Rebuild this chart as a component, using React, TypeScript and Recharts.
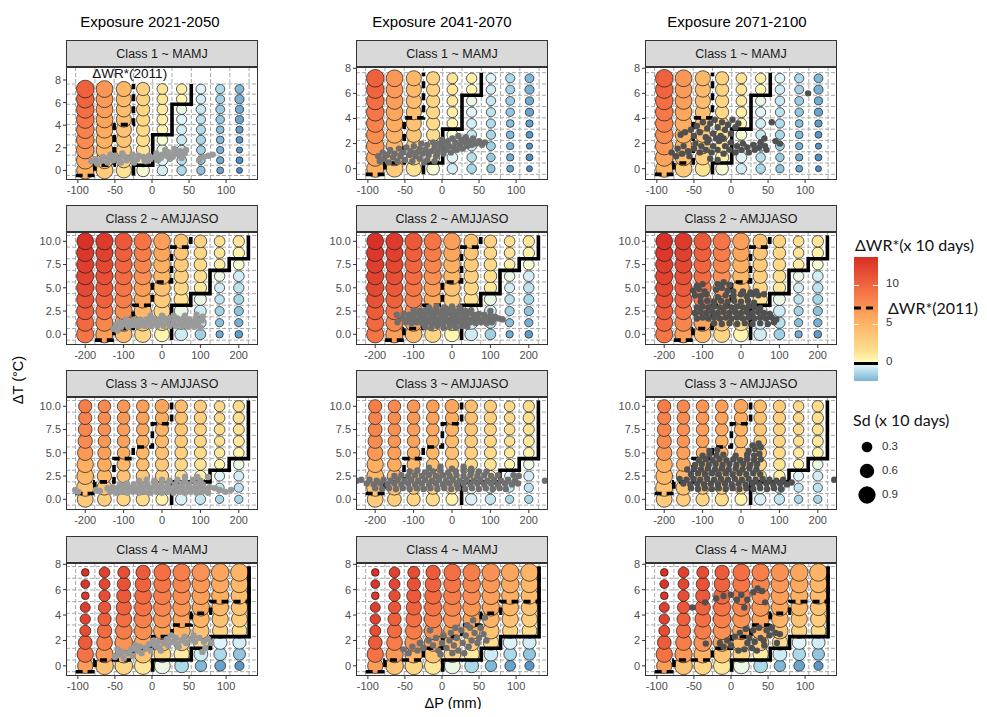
import React from 'react'
import { ScatterChart, Scatter, XAxis, YAxis, CartesianGrid } from 'recharts'

// ---- grid levels (ΔP columns, ΔT rows listed top -> bottom) ----
const dpShort = [-90, -64, -38, -12, 14, 40, 66, 92, 118]
const dpLong = [-200, -150, -100, -50, 0, 50, 100, 150, 200]
const dtClass1 = [7.2, 6.3, 5.4, 4.5, 3.6, 2.7, 1.8, 0.9, 0]
const dtClass23 = [10, 8.75, 7.5, 6.25, 5, 3.75, 2.5, 1.25, 0]
const dtClass4 = [7.36, 6.44, 5.52, 4.6, 3.68, 2.76, 1.84, 0.92, 0]

// tick labels
const ticksShortP = [-100, -50, 0, 50, 100]
const ticksLongP = [-200, -100, 0, 100, 200]
const ticksT8 = [0, 2, 4, 6, 8]
const ticksT10 = [0, 2.5, 5, 7.5, 10]

// cell boundaries (dashed grey grid)
const cutsShortP = [-103, -77, -51, -25, 1, 27, 53, 79, 105, 131]
const cutsLongP = [-225, -175, -125, -75, -25, 25, 75, 125, 175, 225]
const cutsT1 = [-0.45, 0.45, 1.35, 2.25, 3.15, 4.05, 4.95, 5.85, 6.75, 7.65]
const cutsT23 = [-0.625, 0.625, 1.875, 3.125, 4.375, 5.625, 6.875, 8.125, 9.375, 10.625]
const cutsT4 = [-0.46, 0.46, 1.38, 2.3, 3.22, 4.14, 5.06, 5.98, 6.9, 7.82]

// ΔWR* (x 10 days), rows top -> bottom
const wrClass1 = [
  [10.3, 7.0, 4.8, 2.8, 1.3, 0.8, -0.3, -1.2, -2.2],
  [10.0, 6.7, 4.6, 2.6, 1.2, 0.5, -0.5, -1.4, -2.4],
  [9.4, 6.4, 4.4, 2.4, 1.0, -0.2, -0.7, -1.6, -2.6],
  [8.8, 6.0, 4.2, 2.2, 0.8, -0.3, -0.9, -1.8, -2.8],
  [8.2, 5.6, 3.9, 2.0, 0.5, -0.5, -1.1, -2.0, -3.0],
  [7.6, 5.2, 3.6, 1.7, -0.1, -0.7, -1.3, -2.2, -3.2],
  [6.9, 4.8, 3.2, 1.3, -0.2, -0.8, -1.5, -2.4, -3.3],
  [6.0, 4.2, 2.7, 0.8, -0.3, -1.0, -1.7, -2.6, -3.4],
  [5.3, 3.2, 1.4, -0.1, -0.5, -1.2, -1.9, -2.8, -3.5],
]
const wrClass2 = [
  [13.4, 12.8, 10.8, 9.0, 6.4, 4.0, 2.6, 1.6, 1.2],
  [13.0, 12.4, 10.4, 8.6, 6.0, 3.6, 2.3, 1.3, 0.7],
  [12.6, 12.0, 10.0, 8.0, 5.4, 3.2, 2.0, 0.9, -0.1],
  [12.2, 11.4, 9.6, 7.4, 4.8, 2.8, 1.6, -0.2, -0.5],
  [11.8, 10.8, 9.0, 6.6, 4.0, 2.2, 1.1, -0.5, -0.9],
  [11.2, 10.2, 8.4, 5.8, 3.2, 1.5, -0.2, -0.9, -1.3],
  [10.6, 9.2, 7.4, 4.8, 2.4, -0.2, -0.6, -1.4, -1.9],
  [9.8, 8.0, 6.2, 3.8, 1.6, -0.4, -1.0, -2.0, -2.4],
  [9.0, 6.5, 4.6, 2.4, 0.5, -0.6, -1.5, -2.6, -3.0],
]
const wrClass3 = [
  [8.6, 7.8, 7.0, 6.4, 6.0, 4.4, 3.2, 2.2, 1.8],
  [8.2, 7.6, 6.8, 6.2, 5.6, 4.0, 2.9, 2.0, 1.6],
  [8.0, 7.3, 6.5, 5.8, 5.2, 3.6, 2.6, 1.8, 1.4],
  [7.6, 7.0, 6.2, 5.4, 4.6, 3.2, 2.3, 1.5, 1.1],
  [6.8, 6.4, 5.6, 4.8, 4.0, 2.8, 1.9, 1.1, 0.6],
  [5.4, 5.6, 4.8, 4.2, 3.4, 2.3, 1.4, 0.6, -0.2],
  [4.8, 4.8, 4.0, 3.6, 2.8, 1.6, 0.8, -0.3, -0.5],
  [4.0, 4.0, 3.4, 2.8, 2.0, -0.2, -0.5, -0.8, -0.9],
  [3.2, 3.0, 2.4, 1.8, 0.6, -0.4, -0.8, -1.2, -1.3],
]
const wrClass4 = [
  [13.4, 12.4, 11.6, 10.6, 9.4, 8.4, 7.2, 6.0, 5.0],
  [13.2, 12.0, 11.2, 10.2, 9.0, 8.0, 6.8, 5.8, 4.8],
  [13.0, 11.6, 10.8, 9.8, 8.6, 7.6, 6.4, 5.4, 4.4],
  [12.6, 11.0, 10.2, 9.2, 8.0, 7.0, 5.8, 4.8, 3.8],
  [12.2, 10.4, 9.4, 8.4, 7.2, 6.2, 5.0, 4.0, 3.0],
  [11.6, 9.6, 8.6, 7.4, 6.2, 5.0, 3.8, 2.8, 1.8],
  [10.6, 8.6, 7.2, 6.0, 4.4, 3.2, 1.8, -0.3, -0.5],
  [9.2, 7.0, 5.2, 3.8, 2.4, 1.0, -0.6, -1.2, -1.8],
  [6.6, 4.0, 2.4, 1.2, -0.2, -1.2, -2.2, -2.8, -3.2],
]

// Sd (x 10 days), rows top -> bottom
const sdClass1 = [
  [0.95, 0.85, 0.68, 0.5, 0.3, 0.28, 0.24, 0.2, 0.18],
  [0.95, 0.85, 0.68, 0.5, 0.3, 0.28, 0.22, 0.18, 0.2],
  [0.95, 0.85, 0.68, 0.5, 0.3, 0.26, 0.22, 0.18, 0.14],
  [0.95, 0.85, 0.68, 0.5, 0.3, 0.26, 0.2, 0.16, 0.14],
  [0.95, 0.85, 0.68, 0.5, 0.3, 0.24, 0.2, 0.12, 0.1],
  [0.95, 0.85, 0.68, 0.5, 0.3, 0.24, 0.2, 0.12, 0.08],
  [0.95, 0.85, 0.68, 0.5, 0.3, 0.24, 0.18, 0.1, 0.05],
  [0.95, 0.85, 0.68, 0.5, 0.3, 0.22, 0.16, 0.1, 0.08],
  [0.9, 0.85, 0.68, 0.45, 0.28, 0.22, 0.14, 0.08, 0.04],
]
const sdClass2 = [
  [0.85, 0.9, 0.9, 0.9, 0.85, 0.6, 0.45, 0.3, 0.35],
  [0.9, 0.9, 0.9, 0.9, 0.85, 0.6, 0.45, 0.3, 0.35],
  [0.9, 0.9, 0.9, 0.9, 0.85, 0.6, 0.45, 0.3, 0.3],
  [0.9, 0.9, 0.9, 0.9, 0.85, 0.6, 0.45, 0.28, 0.3],
  [0.9, 0.9, 0.9, 0.9, 0.85, 0.6, 0.42, 0.25, 0.28],
  [0.9, 0.9, 0.9, 0.9, 0.85, 0.6, 0.4, 0.22, 0.25],
  [0.9, 0.9, 0.9, 0.9, 0.8, 0.55, 0.38, 0.2, 0.2],
  [0.9, 0.9, 0.9, 0.85, 0.75, 0.5, 0.35, 0.15, 0.15],
  [0.9, 0.9, 0.85, 0.8, 0.65, 0.45, 0.3, 0.1, 0.12],
]
const sdClass3 = [
  [0.5, 0.45, 0.45, 0.45, 0.55, 0.45, 0.42, 0.3, 0.35],
  [0.5, 0.45, 0.45, 0.45, 0.5, 0.45, 0.42, 0.3, 0.35],
  [0.55, 0.45, 0.45, 0.45, 0.5, 0.45, 0.4, 0.3, 0.32],
  [0.6, 0.45, 0.45, 0.45, 0.5, 0.45, 0.4, 0.28, 0.32],
  [0.7, 0.5, 0.45, 0.45, 0.5, 0.45, 0.4, 0.28, 0.3],
  [0.8, 0.55, 0.5, 0.45, 0.5, 0.45, 0.38, 0.26, 0.28],
  [0.85, 0.6, 0.5, 0.5, 0.5, 0.42, 0.35, 0.25, 0.25],
  [0.9, 0.65, 0.5, 0.5, 0.45, 0.4, 0.32, 0.2, 0.2],
  [0.75, 0.55, 0.5, 0.5, 0.4, 0.35, 0.28, 0.15, 0.15],
]
const sdClass4 = [
  [0.12, 0.3, 0.4, 0.6, 0.85, 0.9, 0.95, 0.95, 0.95],
  [0.18, 0.32, 0.5, 0.75, 0.9, 0.95, 0.95, 0.95, 0.9],
  [0.12, 0.35, 0.6, 0.85, 0.95, 0.95, 0.95, 0.9, 0.85],
  [0.25, 0.42, 0.68, 0.9, 0.95, 0.95, 0.9, 0.85, 0.8],
  [0.28, 0.5, 0.75, 0.95, 0.95, 0.9, 0.85, 0.8, 0.75],
  [0.32, 0.6, 0.85, 0.95, 0.95, 0.9, 0.8, 0.7, 0.65],
  [0.55, 0.75, 0.95, 0.95, 0.9, 0.8, 0.7, 0.55, 0.5],
  [0.8, 0.9, 0.95, 0.95, 0.85, 0.7, 0.55, 0.45, 0.4],
  [0.7, 0.95, 0.95, 0.9, 0.75, 0.55, 0.35, 0.3, 0.2],
]

// contour steps: ΔWR* = 0 (solid) and ΔWR* = ΔWR*(2011) (dashed)
const zeroClass1 = [[53, 7.65], [53, 5.85], [27, 5.85], [27, 3.15], [1, 3.15], [1, 0.45], [-25, 0.45], [-25, -0.45]]
const refClass1 = [[-103, -0.45], [-77, -0.45], [-77, 0.45], [-51, 0.45], [-51, 4.05], [-25, 4.05], [-25, 7.65]]
const zeroClass2 = [[225, 10.625], [225, 8.125], [175, 8.125], [175, 6.875], [125, 6.875], [125, 4.375], [75, 4.375], [75, 3.125], [25, 3.125], [25, -0.625]]
const refClass2 = [[-175, -0.625], [-125, -0.625], [-125, 0.625], [-75, 0.625], [-75, 3.125], [-25, 3.125], [-25, 5.625], [25, 5.625], [25, 9.375], [75, 9.375], [75, 10.625]]
const zeroClass3 = [[225, 10.625], [225, 4.375], [175, 4.375], [175, 3.125], [125, 3.125], [125, 1.875], [25, 1.875], [25, -0.625]]
const refClass3 = [[-225, 0.625], [-175, 0.625], [-175, 1.875], [-125, 1.875], [-125, 4.375], [-75, 4.375], [-75, 5.625], [-25, 5.625], [-25, 8.125], [25, 8.125], [25, 10.625]]
const zeroClass4 = [[131, 7.82], [131, 2.3], [79, 2.3], [79, 1.38], [53, 1.38], [53, 0.46], [1, 0.46], [1, -0.46]]
const refClass4 = [[-103, -0.46], [-77, -0.46], [-77, 0.46], [-25, 0.46], [-25, 1.38], [1, 1.38], [1, 2.3], [27, 2.3], [27, 3.22], [53, 3.22], [53, 4.14], [79, 4.14], [79, 5.06], [131, 5.06], [131, 7.82]]

// exposure points [ΔP, ΔT] per class and period
const expC1P1 = [[-82, 0.8], [-76, 1.0], [-74, 0.6], [-68, 0.9], [-66, 1.2], [-60, 0.7], [-58, 1.1], [-56, 1.4], [-52, 0.9], [-50, 1.3], [-44, 1.0], [-42, 0.7], [-40, 1.5], [-36, 1.2], [-34, 0.9], [-28, 1.1], [-26, 1.4], [-24, 0.7], [-20, 1.0], [-18, 1.3], [-12, 1.2], [-10, 0.9], [-8, 0.8], [-4, 1.3], [-2, 1.0], [4, 1.2], [6, 1.5], [8, 0.9], [12, 1.1], [14, 1.4], [18, 1.8], [20, 1.3], [22, 1.6], [24, 1.0], [28, 1.2], [30, 1.5], [30, 1.9], [36, 1.4], [38, 1.7], [40, 1.1], [44, 1.5], [46, 1.8], [64, 0.9], [70, 1.2], [76, 1.3], [82, 1.4]]
const expC1P2 = [[-86, 1.0], [-84, 0.6], [-80, 1.3], [-78, 0.8], [-74, 1.1], [-72, 0.5], [-70, 1.5], [-66, 0.9], [-64, 1.2], [-60, 0.6], [-58, 1.6], [-56, 1.0], [-52, 1.3], [-50, 0.7], [-48, 1.7], [-44, 1.1], [-42, 1.4], [-40, 0.6], [-38, 1.8], [-36, 1.0], [-34, 1.3], [-30, 0.8], [-30, 1.6], [-28, 2.0], [-26, 1.2], [-24, 0.5], [-22, 1.5], [-20, 0.7], [-20, 1.9], [-18, 1.1], [-14, 1.4], [-12, 2.1], [-10, 1.7], [-10, 0.6], [-8, 1.0], [-6, 1.3], [-4, 2.0], [-2, 1.6], [0, 2.3], [2, 1.2], [4, 1.9], [6, 1.5], [8, 2.2], [10, 1.8], [12, 1.3], [14, 2.4], [16, 1.7], [18, 2.1], [20, 1.5], [22, 2.6], [24, 1.9], [26, 2.3], [28, 1.6], [30, 2.1], [32, 2.5], [34, 1.8], [36, 2.2], [40, 1.9], [42, 2.4], [46, 2.0], [50, 2.2], [54, 1.9], [58, 2.1]]
const expC1P3 = [[-80, 1.3], [-74, 1.0], [-72, 1.6], [-66, 1.2], [-64, 1.8], [-58, 1.4], [-56, 1.0], [-50, 1.6], [-48, 2.0], [-42, 1.3], [-40, 1.8], [-34, 1.5], [-32, 2.1], [-26, 1.3], [-24, 1.8], [-18, 1.5], [-16, 2.2], [-10, 1.2], [-8, 1.8], [-2, 1.5], [0, 2.1], [6, 1.3], [8, 1.8], [14, 1.5], [16, 2.0], [22, 1.7], [24, 1.3], [30, 1.9], [32, 1.5], [38, 1.7], [40, 2.1], [46, 1.8], [48, 1.5], [-62, 2.9], [-54, 3.1], [-50, 2.6], [-46, 3.4], [-42, 2.9], [-38, 3.7], [-34, 2.5], [-32, 3.2], [-28, 3.6], [-24, 2.8], [-22, 3.9], [-18, 3.3], [-14, 2.6], [-12, 3.7], [-8, 3.1], [-4, 3.5], [0, 2.8], [2, 3.9], [6, 3.3], [10, 3.6], [-30, 2.3], [-20, 2.4], [-10, 2.4], [-28, 0.8], [-18, 0.7], [55, 3.7], [66, 2.0], [104, 6.0], [-68, 2.7], [60, 2.2], [45, 2.4]]
const expC2P1 = [[-126, 0.6], [-120, 1.0], [-116, 0.4], [-110, 1.3], [-106, 0.8], [-98, 1.1], [-94, 1.6], [-88, 0.8], [-84, 1.3], [-76, 1.0], [-72, 1.6], [-66, 1.2], [-60, 0.9], [-56, 1.6], [-50, 1.2], [-44, 0.9], [-40, 1.6], [-34, 1.2], [-28, 0.9], [-24, 1.7], [-18, 1.2], [-12, 0.9], [-8, 1.6], [-2, 1.2], [4, 0.9], [8, 1.7], [14, 1.3], [20, 0.9], [24, 1.7], [30, 1.2], [36, 0.9], [40, 1.7], [46, 1.3], [52, 0.9], [56, 1.7], [62, 1.2], [68, 0.8], [72, 1.6], [78, 1.2], [84, 0.8], [88, 1.6], [94, 1.2], [100, 0.7], [104, 1.5], [106, 1.9], [-30, 2.0], [0, 2.0], [30, 2.0], [60, 2.0], [90, 2.1]]
const expC2P2 = [[-70, 0.8], [-54, 0.7], [-38, 0.9], [-22, 0.7], [-6, 0.8], [10, 0.7], [26, 0.9], [40, 0.8], [-120, 1.3], [-106, 1.2], [-92, 1.3], [-78, 1.2], [-64, 1.3], [-50, 1.2], [-36, 1.3], [-22, 1.2], [-8, 1.3], [6, 1.2], [20, 1.3], [34, 1.2], [48, 1.3], [62, 1.2], [76, 1.3], [90, 1.2], [104, 1.3], [-130, 1.7], [-116, 1.6], [-102, 1.7], [-88, 1.6], [-74, 1.7], [-60, 1.6], [-46, 1.7], [-32, 1.6], [-18, 1.7], [-4, 1.6], [10, 1.7], [24, 1.6], [38, 1.7], [52, 1.6], [66, 1.7], [80, 1.6], [94, 1.7], [108, 1.6], [122, 1.7], [132, 1.6], [-126, 2.2], [-112, 2.1], [-98, 2.2], [-84, 2.1], [-70, 2.2], [-56, 2.1], [-42, 2.2], [-28, 2.1], [-14, 2.2], [0, 2.1], [14, 2.2], [28, 2.1], [42, 2.2], [56, 2.1], [70, 2.2], [84, 2.1], [100, 2.0], [112, 1.9], [-100, 2.6], [-85, 2.5], [-70, 2.6], [-55, 2.5], [-40, 2.6], [-25, 2.5], [-10, 2.6], [5, 2.5], [20, 2.6], [35, 2.5], [50, 2.6], [-60, 2.9], [-40, 3.0], [-20, 2.9], [0, 3.0], [20, 2.9], [-144, 2.1], [-142, 1.3], [100, 2.5]]
const expC2P3 = [[-70, 1.2], [-50, 1.1], [-30, 1.2], [-10, 1.1], [10, 1.2], [30, 1.1], [50, 1.2], [70, 1.1], [86, 1.3], [-115, 1.7], [-100, 1.8], [-85, 1.7], [-70, 1.8], [-55, 1.7], [-40, 1.8], [-25, 1.7], [-10, 1.8], [5, 1.7], [20, 1.8], [35, 1.7], [50, 1.8], [65, 1.7], [80, 1.8], [92, 1.6], [-120, 2.3], [-105, 2.4], [-90, 2.3], [-75, 2.4], [-60, 2.3], [-45, 2.4], [-30, 2.3], [-15, 2.4], [0, 2.3], [15, 2.4], [30, 2.3], [45, 2.4], [60, 2.3], [75, 2.2], [-115, 2.9], [-100, 3.0], [-85, 2.9], [-70, 3.0], [-55, 2.9], [-40, 3.0], [-25, 2.9], [-10, 3.0], [5, 2.9], [20, 3.0], [35, 2.9], [50, 2.8], [-105, 3.5], [-88, 3.6], [-70, 3.5], [-52, 3.6], [-35, 3.5], [-18, 3.6], [0, 3.5], [18, 3.6], [34, 3.4], [-120, 4.2], [-105, 4.1], [-90, 4.3], [-60, 4.0], [-40, 4.2], [-20, 4.1], [0, 4.3], [15, 4.1], [30, 4.3], [45, 4.2], [60, 4.3], [-125, 4.7], [-110, 4.9], [-95, 4.6], [-65, 4.8], [-50, 5.0], [-35, 4.7], [-20, 4.6], [5, 4.6], [25, 4.5], [40, 4.6], [-115, 5.2], [-100, 5.4], [-60, 5.4], [-45, 5.6], [-30, 5.3]]
const expC3P1 = [[-226, 1.0], [-218, 0.8], [-172, 1.0], [-162, 0.9], [-135, 0.8], [-120, 0.7], [-105, 0.8], [-90, 0.7], [-75, 0.8], [-60, 0.7], [-45, 0.8], [-30, 0.7], [-15, 0.8], [0, 0.7], [15, 0.8], [30, 0.7], [45, 0.8], [60, 0.7], [75, 0.8], [90, 0.7], [105, 0.8], [120, 0.7], [-142, 1.2], [-128, 1.3], [-114, 1.2], [-100, 1.3], [-86, 1.2], [-72, 1.3], [-58, 1.2], [-44, 1.3], [-30, 1.2], [-16, 1.3], [-2, 1.2], [12, 1.3], [26, 1.2], [40, 1.3], [54, 1.2], [68, 1.3], [82, 1.2], [96, 1.3], [110, 1.2], [124, 1.3], [138, 1.2], [-110, 1.6], [-92, 1.7], [-74, 1.6], [-56, 1.7], [-38, 1.6], [-20, 1.7], [-2, 1.6], [16, 1.7], [34, 1.6], [52, 1.7], [70, 1.6], [88, 1.7], [106, 1.6], [-60, 2.0], [-40, 2.1], [-20, 2.0], [0, 2.1], [20, 2.0], [40, 2.1], [60, 2.0], [80, 2.1], [100, 2.0], [150, 1.0], [165, 0.8], [180, 1.0], [120, 2.4], [92, 2.4], [60, 2.4]]
const expC3P2 = [[-248, 2.0], [-236, 2.1], [242, 2.0], [-200, 1.2], [-182, 1.1], [-164, 1.2], [-146, 1.1], [-128, 1.2], [-110, 1.1], [-92, 1.2], [-74, 1.1], [-56, 1.2], [-38, 1.1], [-20, 1.2], [-2, 1.1], [16, 1.2], [34, 1.1], [52, 1.2], [70, 1.1], [88, 1.2], [106, 1.1], [124, 1.2], [140, 1.1], [-222, 1.7], [-204, 1.6], [-186, 1.7], [-168, 1.6], [-150, 1.7], [-132, 1.6], [-114, 1.7], [-96, 1.6], [-78, 1.7], [-60, 1.6], [-42, 1.7], [-24, 1.6], [-6, 1.7], [12, 1.6], [30, 1.7], [48, 1.6], [66, 1.7], [84, 1.6], [102, 1.7], [120, 1.6], [138, 1.7], [156, 1.6], [172, 1.7], [-215, 2.1], [-196, 2.0], [-178, 2.1], [-160, 2.0], [-142, 2.1], [-124, 2.0], [-106, 2.1], [-88, 2.0], [-70, 2.1], [-52, 2.0], [-34, 2.1], [-16, 2.0], [2, 2.1], [20, 2.0], [38, 2.1], [56, 2.0], [74, 2.1], [92, 2.0], [110, 2.1], [128, 2.0], [146, 2.1], [164, 2.0], [-150, 2.5], [-132, 2.6], [-114, 2.5], [-96, 2.6], [-78, 2.5], [-60, 2.6], [-42, 2.5], [-24, 2.6], [-6, 2.5], [12, 2.6], [30, 2.5], [48, 2.6], [66, 2.5], [84, 2.6], [102, 2.5], [120, 2.6], [160, 2.6], [174, 2.5], [-110, 3.0], [-90, 3.1], [-70, 2.9], [-50, 3.0], [-30, 3.1], [-10, 2.9], [10, 3.0], [30, 3.1], [50, 2.9], [70, 3.0], [90, 3.0], [-60, 3.4], [-30, 3.5], [0, 3.3], [30, 3.5], [50, 3.3]]
const expC3P3 = [[-130, 1.2], [-112, 1.1], [-94, 1.2], [-76, 1.1], [-58, 1.2], [-40, 1.1], [-22, 1.2], [-4, 1.1], [14, 1.2], [32, 1.1], [50, 1.2], [68, 1.1], [86, 1.2], [104, 1.1], [-150, 1.7], [-132, 1.6], [-114, 1.7], [-96, 1.6], [-78, 1.7], [-60, 1.6], [-42, 1.7], [-24, 1.6], [-6, 1.7], [12, 1.6], [30, 1.7], [48, 1.6], [66, 1.7], [84, 1.6], [102, 1.7], [120, 1.6], [132, 1.8], [-160, 2.2], [-142, 2.1], [-124, 2.2], [-106, 2.1], [-88, 2.2], [-70, 2.1], [-52, 2.2], [-34, 2.1], [-16, 2.2], [2, 2.1], [20, 2.2], [38, 2.1], [56, 2.2], [74, 2.1], [92, 2.0], [110, 2.1], [-130, 2.7], [-112, 2.8], [-94, 2.7], [-76, 2.8], [-58, 2.7], [-40, 2.8], [-22, 2.7], [-4, 2.8], [14, 2.7], [32, 2.8], [50, 2.7], [-140, 3.2], [-122, 3.3], [-104, 3.2], [-86, 3.3], [-68, 3.2], [-50, 3.3], [-32, 3.2], [-14, 3.3], [4, 3.2], [22, 3.3], [40, 3.2], [-120, 3.7], [-102, 3.8], [-84, 3.7], [-66, 3.8], [-48, 3.7], [-30, 3.8], [-12, 3.7], [6, 3.8], [24, 3.7], [42, 3.8], [-110, 4.2], [-92, 4.3], [-74, 4.2], [-56, 4.3], [-38, 4.2], [-20, 4.3], [-2, 4.2], [16, 4.3], [34, 4.2], [52, 4.3], [-100, 4.7], [-82, 4.8], [-64, 4.7], [-46, 4.8], [-14, 4.7], [16, 4.8], [34, 4.7], [48, 4.9], [-82, 5.2], [-62, 5.3], [20, 5.2], [36, 5.4], [52, 5.6], [30, 5.8], [46, 6.0], [243, 2.1]]
const expC4P1 = [[-50, 0.7], [-44, 0.9], [-38, 0.6], [-40, 1.1], [-32, 1.0], [-26, 0.8], [-28, 1.3], [-20, 1.2], [-14, 1.0], [-16, 1.5], [-8, 1.4], [-2, 1.2], [-4, 1.7], [4, 1.6], [10, 1.4], [8, 1.9], [16, 1.8], [22, 1.6], [20, 2.1], [28, 1.9], [34, 1.7], [32, 2.2], [40, 2.0], [46, 1.8], [44, 2.3], [52, 2.1], [58, 1.9], [56, 2.4], [64, 2.2], [70, 1.9], [76, 2.1], [68, 1.1], [72, 1.4], [80, 1.8], [-46, 1.3], [-22, 1.6], [2, 2.0], [26, 2.4], [12, 1.2], [36, 1.5]]
const expC4P2 = [[-52, 1.3], [-45, 1.0], [-40, 1.5], [-33, 1.2], [-30, 1.8], [-25, 1.4], [-18, 2.0], [-16, 2.8], [-12, 1.6], [-8, 2.2], [-5, 1.2], [0, 1.8], [2, 2.4], [6, 1.4], [10, 2.0], [12, 2.6], [16, 1.6], [20, 2.2], [22, 1.2], [26, 2.8], [28, 1.8], [32, 2.4], [34, 3.2], [36, 1.5], [40, 2.0], [42, 3.6], [44, 2.6], [48, 1.8], [50, 2.2], [52, 3.0], [56, 2.5], [58, 3.8], [60, 2.0], [38, 3.0], [18, 3.0], [30, 1.0], [14, 1.0], [-2, 0.9]]
const expC4P3 = [[-52, 4.6], [-35, 5.0], [-20, 5.3], [-10, 5.5], [0, 5.6], [8, 5.2], [14, 5.6], [22, 5.2], [30, 5.8], [36, 6.1], [42, 5.9], [46, 5.0], [18, 4.6], [-34, 1.75], [-15, 1.8], [-10, 1.5], [-5, 2.0], [0, 1.6], [5, 2.3], [10, 1.2], [12, 2.6], [18, 1.3], [20, 2.9], [25, 2.2], [28, 1.4], [30, 2.8], [35, 1.2], [38, 3.0], [40, 2.2], [45, 1.6], [48, 2.8], [52, 2.4], [55, 3.0], [60, 2.6], [62, 1.8], [66, 2.5], [22, 1.8], [32, 1.9], [44, 2.0]]

const periods = ['Exposure 2021-2050', 'Exposure 2041-2070', 'Exposure 2071-2100']
const legendTicks = [10, 5, 0]
const sdLegend = [0.3, 0.6, 0.9]

// ---- styling ----
const FONT = '"Liberation Sans", Arial, sans-serif'
const COL_LEFT = [66, 356, 645]
const TITLE_CENTER = [150, 442, 737]
const ROW_TOP = [67, 232, 397, 563]
const PANEL_W = 192
const PANEL_H = 113
const STRIP_H = 27
const Y_W = 40
const X_H = 22
const TOP_PAD = 8
const POINT_FILL = ['#9a9a9a', '#6f6f6f', '#505050']

const WR_STOPS: [number, string][] = [
  [-3.6, '#4a88c0'],
  [-2.5, '#74add1'],
  [-1.2, '#abd9e9'],
  [-0.3, '#e0f3f8'],
  [0, '#ffffbf'],
  [1.5, '#fee090'],
  [5.5, '#fdae61'],
  [9.5, '#f46d43'],
  [13.5, '#d73027'],
]

function hexToRgb(h: string) {
  return [1, 3, 5].map((i) => parseInt(h.slice(i, i + 2), 16))
}

function wrColor(v: number) {
  const s = WR_STOPS
  if (v <= s[0][0]) return s[0][1]
  for (let i = 1; i < s.length; i++) {
    if (v <= s[i][0]) {
      const t = (v - s[i - 1][0]) / (s[i][0] - s[i - 1][0])
      const a = hexToRgb(s[i - 1][1])
      const b = hexToRgb(s[i][1])
      const c = a.map((x, k) => Math.round(x + (b[k] - x) * t))
      return `rgb(${c[0]},${c[1]},${c[2]})`
    }
  }
  return s[s.length - 1][1]
}

const sdRadius = (sd: number) => Math.sqrt(6 + 76 * sd)

const CLASSES = [
  { title: 'Class 1 ~ MAMJ', dp: dpShort, dt: dtClass1, wr: wrClass1, sd: sdClass1, zero: zeroClass1, ref: refClass1, xDomain: [-116, 143], yDomain: [-0.9, 8.1], xTicks: ticksShortP, yTicks: ticksT8, xCuts: cutsShortP, yCuts: cutsT1, points: [expC1P1, expC1P2, expC1P3] },
  { title: 'Class 2 ~ AMJJASO', dp: dpLong, dt: dtClass23, wr: wrClass2, sd: sdClass2, zero: zeroClass2, ref: refClass2, xDomain: [-250, 250], yDomain: [-1.15, 11.0], xTicks: ticksLongP, yTicks: ticksT10, xCuts: cutsLongP, yCuts: cutsT23, points: [expC2P1, expC2P2, expC2P3] },
  { title: 'Class 3 ~ AMJJASO', dp: dpLong, dt: dtClass23, wr: wrClass3, sd: sdClass3, zero: zeroClass3, ref: refClass3, xDomain: [-250, 250], yDomain: [-1.15, 11.0], xTicks: ticksLongP, yTicks: ticksT10, xCuts: cutsLongP, yCuts: cutsT23, points: [expC3P1, expC3P2, expC3P3] },
  { title: 'Class 4 ~ MAMJ', dp: dpShort, dt: dtClass4, wr: wrClass4, sd: sdClass4, zero: zeroClass4, ref: refClass4, xDomain: [-116, 143], yDomain: [-0.8, 8.1], xTicks: ticksShortP, yTicks: ticksT8, xCuts: cutsShortP, yCuts: cutsT4, points: [expC4P1, expC4P2, expC4P3] },
]

const toXY = (arr: number[][]) => arr.map(([x, y]) => ({ x, y }))

function buildBubbles(c: any) {
  const out: any[] = []
  // bottom row first so upper bubbles are drawn on top
  for (let i = c.dt.length - 1; i >= 0; i--) {
    c.dp.forEach((p: number, j: number) => {
      out.push({ x: p, y: c.dt[i], v: c.wr[i][j], sd: c.sd[i][j] })
    })
  }
  return out
}

const Nothing = () => <g />

function Panel({ cls, row, col }: { cls: any; row: number; col: number }) {
  const left = COL_LEFT[col]
  const top = ROW_TOP[row]
  const yDomain = row === 0 && col === 0 ? [-0.85, 9.15] : cls.yDomain
  const bubbles = buildBubbles(cls)
  const fill = POINT_FILL[col]
  const fmt = (v: number) => (cls.yTicks === ticksT10 ? v.toFixed(1) : String(v))
  return (
    <>
      <div
        style={{
          position: 'absolute', left, top: top - STRIP_H, width: PANEL_W, height: STRIP_H,
          background: '#d9d9d9', border: '1px solid #333', boxSizing: 'border-box',
          display: 'flex', alignItems: 'center', justifyContent: 'center',
          fontSize: 12.5, color: '#1a1a1a', fontFamily: FONT,
        }}
      >
        {cls.title}
      </div>
      <div style={{ position: 'absolute', left: left - Y_W, top: top - TOP_PAD }}>
        <ScatterChart width={PANEL_W + Y_W} height={PANEL_H + X_H + TOP_PAD} margin={{ top: TOP_PAD, right: 0, bottom: 0, left: 0 }}>
          <CartesianGrid
            horizontalValues={cls.yCuts}
            verticalValues={cls.xCuts}
            stroke="#a9a9a9"
            strokeDasharray="4 2"
          />
          <XAxis
            type="number" dataKey="x" domain={cls.xDomain} ticks={cls.xTicks} allowDataOverflow
            interval={0} axisLine={false} tickSize={3} tickMargin={3} height={X_H}
            tickLine={{ stroke: '#333' }}
            tick={{ fill: '#4d4d4d', fontSize: 11, fontFamily: FONT }}
          />
          <YAxis
            type="number" dataKey="y" domain={yDomain} ticks={cls.yTicks} allowDataOverflow
            interval={0} axisLine={false} tickSize={3} tickMargin={2} width={Y_W}
            tickFormatter={fmt}
            tickLine={{ stroke: '#333' }}
            tick={{ fill: '#4d4d4d', fontSize: 11, fontFamily: FONT }}
          />
          <Scatter
            data={bubbles}
            isAnimationActive={false}
            shape={(p: any) => (
              <circle cx={p.cx} cy={p.cy} r={sdRadius(p.payload.sd)} fill={wrColor(p.payload.v)} stroke="#1a1a1a" strokeWidth={0.7} />
            )}
          />
          <Scatter
            data={toXY(cls.ref)}
            isAnimationActive={false}
            line={{ stroke: '#000', strokeWidth: 3.6, strokeDasharray: '7 5' }}
            lineType="joint"
            shape={Nothing}
          />
          <Scatter
            data={toXY(cls.zero)}
            isAnimationActive={false}
            line={{ stroke: '#000', strokeWidth: 3.6 }}
            lineType="joint"
            shape={Nothing}
          />
          <Scatter
            data={toXY(cls.points[col])}
            isAnimationActive={false}
            shape={(p: any) => <circle cx={p.cx} cy={p.cy} r={3.2} fill={fill} />}
          />
          {row === 0 && col === 0 && (
            <Scatter
              data={[{ x: -30, y: 8.55 }]}
              isAnimationActive={false}
              shape={(p: any) => (
                <text x={p.cx} y={p.cy} textAnchor="middle" dominantBaseline="central" fontSize={13.5} fontFamily={FONT} fill="#111">
                  ΔWR*(2011)
                </text>
              )}
            />
          )}
        </ScatterChart>
      </div>
      <div
        style={{
          position: 'absolute', left, top, width: PANEL_W, height: PANEL_H,
          border: '1px solid #333', boxSizing: 'border-box', pointerEvents: 'none',
        }}
      />
    </>
  )
}

// colour bar geometry
const BAR_TOP = 257
const BAR_BOTTOM = 381
const BAR_MAX = 13.6
const BAR_MIN = -2.3
const barY = (v: number) => BAR_BOTTOM - ((v - BAR_MIN) / (BAR_MAX - BAR_MIN)) * (BAR_BOTTOM - BAR_TOP)

function Legend() {
  const grad = WR_STOPS.map(([v, c]) => `${c} ${(((v - BAR_MIN) / (BAR_MAX - BAR_MIN)) * 100).toFixed(1)}%`).join(', ')
  const lf = 'Lato, "Noto Sans", sans-serif'
  return (
    <>
      <div style={{ position: 'absolute', left: 855, top: 235, fontFamily: lf, fontSize: 16, color: '#111', whiteSpace: 'nowrap' }}>
        ΔWR*(x 10 days)
      </div>
      <div
        style={{
          position: 'absolute', left: 854, top: BAR_TOP, width: 24, height: BAR_BOTTOM - BAR_TOP,
          background: `linear-gradient(to top, ${grad})`,
        }}
      />
      {legendTicks.map((t) => (
        <React.Fragment key={t}>
          {t !== 0 && (
            <>
              <div style={{ position: 'absolute', left: 854, top: barY(t) - 0.5, width: 5, height: 1, background: '#fff' }} />
              <div style={{ position: 'absolute', left: 873, top: barY(t) - 0.5, width: 5, height: 1, background: '#fff' }} />
            </>
          )}
          <div style={{ position: 'absolute', left: 886, top: barY(t) - 8, fontFamily: FONT, fontSize: 11.5, color: '#333' }}>{t}</div>
        </React.Fragment>
      ))}
      <div style={{ position: 'absolute', left: 854, top: barY(0) - 1.5, width: 24, height: 3, background: '#000' }} />
      <svg style={{ position: 'absolute', left: 854, top: 305 }} width={26} height={6}>
        <line x1={0} y1={3} x2={24} y2={3} stroke="#000" strokeWidth={3} strokeDasharray="7 5" />
      </svg>
      <div style={{ position: 'absolute', left: 888, top: 298, fontFamily: lf, fontSize: 16, color: '#111', whiteSpace: 'nowrap' }}>
        ΔWR*(2011)
      </div>
      <div style={{ position: 'absolute', left: 853, top: 410, fontFamily: lf, fontSize: 16, color: '#111', whiteSpace: 'nowrap' }}>
        Sd (x 10 days)
      </div>
      {sdLegend.map((s, i) => (
        <React.Fragment key={s}>
          <svg style={{ position: 'absolute', left: 857, top: 437 + i * 24 }} width={20} height={20}>
            <circle cx={10} cy={10} r={sdRadius(s)} fill="#000" />
          </svg>
          <div style={{ position: 'absolute', left: 882, top: 440 + i * 24, fontFamily: FONT, fontSize: 11.5, color: '#333' }}>
            {s.toFixed(1)}
          </div>
        </React.Fragment>
      ))}
    </>
  )
}

export default function App() {
  return (
    <div style={{ position: 'relative', width: 987, height: 717, background: '#fff', fontFamily: FONT, margin: -8 }}>
      {periods.map((p, i) => (
        <div
          key={p}
          style={{
            position: 'absolute', left: TITLE_CENTER[i] - 110, width: 220, top: 13,
            textAlign: 'center', fontSize: 15, color: '#000',
          }}
        >
          {p}
        </div>
      ))}
      {CLASSES.map((c, r) => [0, 1, 2].map((col) => <Panel key={`${r}-${col}`} cls={c} row={r} col={col} />))}
      <div
        style={{
          position: 'absolute', left: 18, top: 380, transform: 'translate(-50%, -50%) rotate(-90deg)',
          fontSize: 14.5, whiteSpace: 'nowrap', color: '#000',
        }}
      >
        ΔT (°C)
      </div>
      <div style={{ position: 'absolute', left: 353, width: 200, top: 695, textAlign: 'center', fontSize: 14.5, color: '#000' }}>
        ΔP (mm)
      </div>
      <Legend />
    </div>
  )
}
